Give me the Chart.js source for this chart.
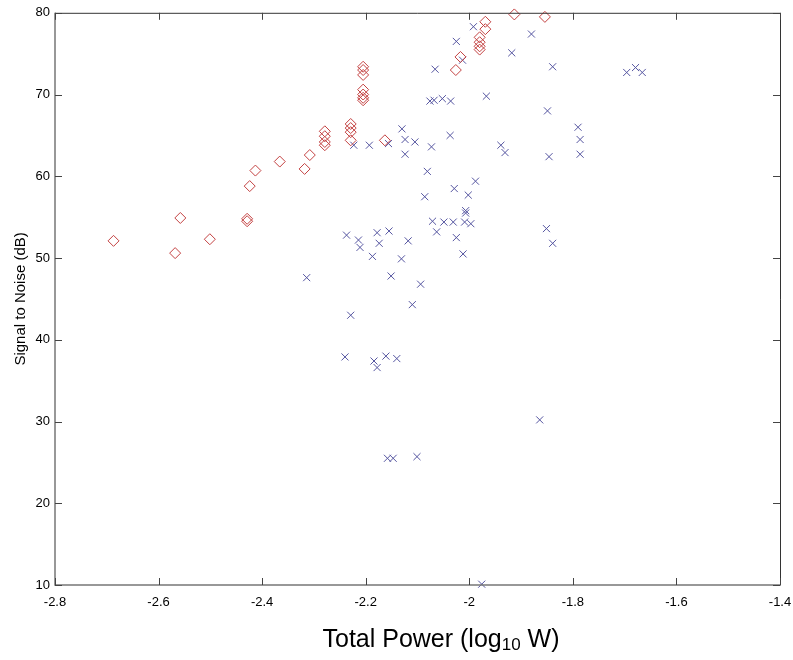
<!DOCTYPE html>
<html>
<head>
<meta charset="utf-8">
<script src="https://cdn.jsdelivr.net/npm/chart.js@4"></script>
<style>
  html, body { margin: 0; padding: 0; background: #fff; }
  #wrap { width: 793px; height: 660px; position: relative; }
</style>
</head>
<body>
<div id="wrap"><canvas id="snrChart" width="793" height="660"></canvas></div>
<script>
// red diamonds (log10 W, dB)
const redX = [-2.687, -2.568, -2.558, -2.501, -2.429, -2.429, -2.424, -2.413, -2.366, -2.318,
  -2.308, -2.279, -2.279, -2.279, -2.279, -2.229, -2.229, -2.229, -2.229, -2.205,
  -2.205, -2.205, -2.205, -2.205, -2.205, -2.205, -2.163, -2.026, -2.017, -1.980,
  -1.980, -1.980, -1.980, -1.969, -1.969, -1.913, -1.854];
const redY = [52.1, 50.6, 54.9, 52.3, 54.8, 54.5, 58.8, 60.7, 61.8, 60.9,
  62.6, 65.5, 64.9, 64.2, 63.8, 66.4, 65.9, 65.4, 64.4, 73.4,
  73.0, 72.4, 70.6, 70.0, 69.6, 69.3, 64.4, 73.0, 74.6, 77.0,
  76.4, 75.9, 75.5, 78.9, 78.0, 79.8, 79.5];

// blue crosses
const blueX = [-1.992, -2.025, -2.013, -2.066, -2.076, -2.068, -2.052, -2.036, -2.130, -2.124,
  -2.105, -2.124, -2.073, -2.037, -2.223, -2.193, -2.156, -2.081, -2.029, -1.988,
  -1.880, -1.918, -1.839, -1.696, -1.679, -1.666, -1.967, -1.849, -1.790, -1.786,
  -1.786, -1.939, -1.931, -1.846, -2.086, -2.002, -2.007, -2.007, -2.071, -2.049,
  -2.031, -2.009, -1.997, -2.063, -2.025, -2.012, -2.237, -2.214, -2.211, -2.178,
  -2.155, -2.174, -2.118, -2.187, -2.131, -2.314, -2.151, -2.094, -2.110, -2.229,
  -2.240, -2.184, -2.178, -2.161, -2.140, -2.158, -2.147, -2.101, -1.864, -1.976,
  -1.851, -1.839];
const blueY = [78.3, 76.5, 74.2, 73.1, 69.2, 69.3, 69.5, 69.2, 65.8, 64.5,
  64.2, 62.7, 63.6, 65.0, 63.8, 63.8, 64.0, 60.6, 58.5, 59.4,
  77.4, 75.1, 73.4, 72.7, 73.3, 72.7, 69.8, 68.0, 66.0, 64.5,
  62.7, 63.8, 62.9, 62.4, 57.5, 57.7, 55.8, 55.5, 54.5, 54.4,
  54.4, 54.4, 54.2, 53.2, 52.5, 50.5, 52.8, 52.2, 51.3, 53.1,
  53.3, 51.8, 52.1, 50.2, 49.9, 47.6, 47.8, 46.8, 44.3, 43.0,
  37.9, 37.4, 36.6, 38.0, 37.7, 25.5, 25.5, 25.7, 30.2, 10.1,
  53.6, 51.8];

const xTicks = [-2.8, -2.6, -2.4, -2.2, -2, -1.8, -1.6, -1.4];
const yTicks = [10, 20, 30, 40, 50, 60, 70, 80];

function toPoints(xs, ys) {
  return xs.map((x, i) => ({ x: x, y: ys[i] }));
}

// inward tick marks, box frame and the x title with a subscript
const framePlugin = {
  id: "frame",
  afterDraw(chart) {
    const ctx = chart.ctx;
    const a = chart.chartArea;
    const xs = chart.scales.x;
    const ys = chart.scales.y;
    ctx.save();
    ctx.strokeStyle = "#333";
    ctx.lineWidth = 1;
    ctx.beginPath();
    ctx.moveTo(a.left, a.top + 0.5);
    ctx.lineTo(a.right + 0.5, a.top + 0.5);
    ctx.lineTo(a.right + 0.5, a.bottom);
    ctx.stroke();
    ctx.strokeStyle = "#777";
    ctx.lineWidth = 1.5;
    ctx.beginPath();
    ctx.moveTo(a.left, a.top);
    ctx.lineTo(a.left, a.bottom);
    ctx.lineTo(a.right + 1, a.bottom);
    ctx.stroke();

    ctx.lineWidth = 1;
    ctx.strokeStyle = "#444";
    const tl = 7;
    ctx.beginPath();
    xTicks.forEach((v) => {
      const px = Math.round(xs.getPixelForValue(v)) + 0.5;
      ctx.moveTo(px, a.top);
      ctx.lineTo(px, a.top + tl);
      ctx.moveTo(px, a.bottom);
      ctx.lineTo(px, a.bottom - tl);
    });
    yTicks.forEach((v) => {
      const py = Math.round(ys.getPixelForValue(v)) + 0.5;
      ctx.moveTo(a.left, py);
      ctx.lineTo(a.left + tl, py);
      ctx.moveTo(a.right, py);
      ctx.lineTo(a.right - tl, py);
    });
    ctx.stroke();

    // x title: Total Power (log10 W)
    const big = "25px 'Liberation Sans', Arial, sans-serif";
    const small = "17px 'Liberation Sans', Arial, sans-serif";
    const p1 = "Total Power (log";
    const p2 = "10";
    const p3 = " W)";
    ctx.font = big;
    const w1 = ctx.measureText(p1).width;
    const w3 = ctx.measureText(p3).width;
    ctx.font = small;
    const w2 = ctx.measureText(p2).width;
    const total = w1 + w2 + w3;
    const x0 = 441 - total / 2;
    const base = 647;
    ctx.fillStyle = "#000";
    ctx.textBaseline = "alphabetic";
    ctx.textAlign = "left";
    ctx.font = big;
    ctx.fillText(p1, x0, base);
    ctx.font = small;
    ctx.fillText(p2, x0 + w1, base + 3);
    ctx.font = big;
    ctx.fillText(p3, x0 + w1 + w2, base);
    ctx.restore();
  },
};

const tickFont = { family: "'Liberation Sans', Arial, sans-serif", size: 13 };
const yTitleFont = { family: "'Liberation Sans', Arial, sans-serif", size: 15 };

new Chart(document.getElementById("snrChart"), {
  type: "scatter",
  data: {
    datasets: [
      {
        label: "diamonds",
        data: toPoints(redX, redY),
        pointStyle: "rectRot",
        pointRadius: 5.5,
        pointBorderWidth: 1,
        borderColor: "rgb(195,65,65)",
        backgroundColor: "rgba(0,0,0,0)",
      },
      {
        label: "crosses",
        data: toPoints(blueX, blueY),
        pointStyle: "crossRot",
        pointRadius: 5,
        pointBorderWidth: 1,
        borderColor: "rgb(85,85,160)",
        backgroundColor: "rgba(0,0,0,0)",
      },
    ],
  },
  options: {
    responsive: false,
    animation: false,
    clip: false,
    layout: { padding: { left: 0, right: 13, top: 12, bottom: 0 } },
    plugins: {
      legend: { display: false },
      tooltip: { enabled: false },
    },
    scales: {
      x: {
        type: "linear",
        min: -2.8,
        max: -1.4,
        afterBuildTicks: (s) => { s.ticks = xTicks.map((v) => ({ value: v })); },
        afterFit: (s) => {
          s.height = 75;
          s.paddingLeft = 0;
          s.paddingRight = 0;
        },
        grid: { display: false, drawTicks: false },
        border: { display: false },
        ticks: {
          color: "#000",
          font: tickFont,
          padding: 10,
          maxRotation: 0,
          callback: (v) => String(Math.round(v * 10) / 10),
        },
      },
      y: {
        type: "linear",
        min: 10,
        max: 80,
        afterBuildTicks: (s) => { s.ticks = yTicks.map((v) => ({ value: v })); },
        afterFit: (s) => { s.width = 55; },
        grid: { display: false, drawTicks: false },
        border: { display: false },
        ticks: { color: "#000", font: tickFont, padding: 5 },
        title: {
          display: true,
          text: "Signal to Noise (dB)",
          color: "#000",
          font: yTitleFont,
          padding: { top: 12, bottom: 0 },
        },
      },
    },
  },
  plugins: [framePlugin],
});
</script>
</body>
</html>
